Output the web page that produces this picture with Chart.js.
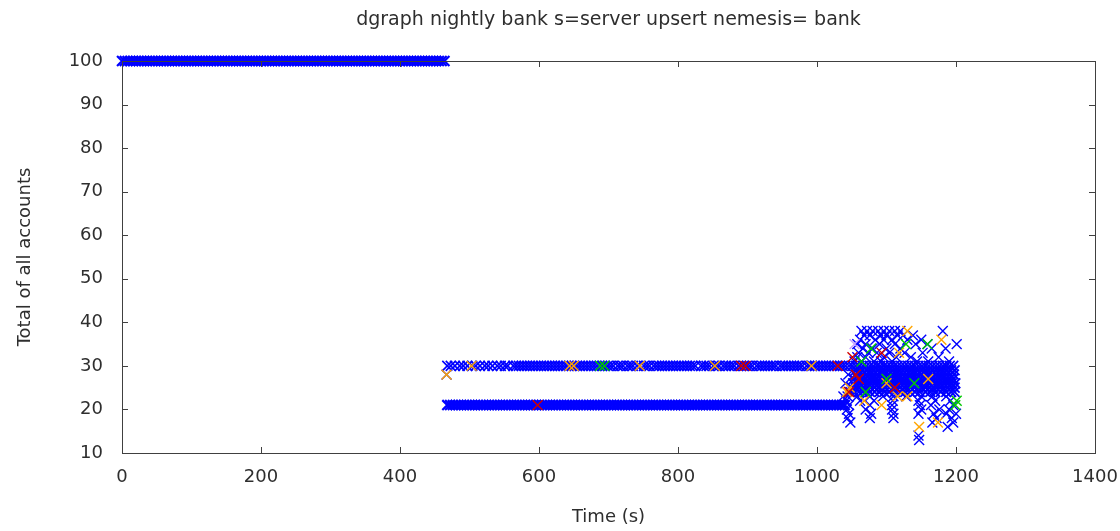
<!DOCTYPE html>
<html><head><meta charset="utf-8">
<script src="https://cdn.jsdelivr.net/npm/chart.js@4/dist/chart.umd.min.js"></script>
<style>html,body{margin:0;padding:0;background:#fff;}</style>
</head><body>
<canvas id="c" width="1120" height="531"></canvas>
<script>
// ---------- text ----------
const titleText = 'dgraph nightly bank s=server upsert nemesis= bank';
const xAxisLabel = 'Time (s)';
const yAxisLabel = 'Total of all accounts';
const xTickValues = [0, 200, 400, 600, 800, 1000, 1200, 1400];
const yTickValues = [10, 20, 30, 40, 50, 60, 70, 80, 90, 100];

// ---------- data: times (s) of reads at a constant total ----------
const band100Value = 100;
const band100Times = [0,4,8,12,16,20,24,28,32,36,40,44,48,52,56,60,64,68,72,76,80,84,88,92,96,100,104,108,112,116,120,124,128,132,136,140,144,148,152,156,160,164,168,172,176,180,184,188,192,196,200,204,208,212,216,220,224,228,232,236,240,244,248,252,256,260,264,268,272,276,280,284,288,292,296,300,304,308,312,316,320,324,328,332,336,340,344,348,352,356,360,364,368,372,376,380,384,388,392,396,400,404,408,412,416,420,424,428,432,436,440,444,448,452,456,460,464];

const band21Value = 21;
const band21Times = [468,472,476,480,484,488,492,496,500,504,508,512,516,520,524,528,532,536,540,544,548,552,556,560,564,568,572,576,580,584,588,592,596,600,604,608,612,616,620,624,628,632,636,640,644,648,652,656,660,664,668,672,676,680,684,688,692,696,700,704,708,712,716,720,724,728,732,736,740,744,748,752,756,760,764,768,772,776,780,784,788,792,796,800,804,808,812,816,820,824,828,832,836,840,844,848,852,856,860,864,868,872,876,880,884,888,892,896,900,904,908,912,916,920,924,928,932,936,940,944,948,952,956,960,964,968,972,976,980,984,988,992,996,1000,1004,1008,1012,1016,1020,1024,1028,1032,1036,1040];

const band30Value = 30;
const band30Times = [468,473,479,486,491,497,504,509,515,522,527,533,540,545,551,555,
563,567,571,575,579,583,587,591,595,599,603,607,611,615,619,623,627,631,635,639,643,647,651,655,659,663,667,671,675,679,683,687,691,695,699,703,707,713,717,721,727,731,735,741,745,751,755,759,765,769,773,777,781,785,789,793,797,801,805,809,813,817,821,825,
833,837,841,845,851,855,859,865,869,873,877,881,887,891,895,899,903,907,913,917,921,925,929,933,937,941,947,951,955,959,963,967,971,975,979,985,989,993,997,1001,1005,1009,1013,1017,1021,1025,1029,1033,1037,1041,
1046,1051,1056,1061,1066,1071,1076,1081,1086,1091,1096,1101,1106,1111,1116,1121,1126,1131,1136,1141,1146,1151,1156,1161,1166,1171,1176,1181,1186,1191,1196];

// dense block of reads after ~1050 s, one list of times per total
const block29Times = [1056,1061,1066,1072,1077,1082,1088,1093,1098,1103,1109,1114,1119,1124,1130,1135,1140,1145,1151,1156,1161,1166,1172,1177,1182,1187,1193,1198];
const block28Times = [1055,1060,1065,1071,1076,1081,1087,1092,1097,1102,1108,1113,1118,1123,1129,1134,1139,1144,1150,1155,1160,1165,1171,1176,1181,1186,1192,1197];
const block27Times = [1053,1059,1064,1069,1075,1080,1085,1091,1096,1101,1107,1112,1117,1122,1128,1133,1138,1143,1149,1154,1159,1164,1170,1175,1180,1185,1191,1196];
const block26Times = [1052,1057,1062,1068,1073,1078,1084,1089,1094,1099,1105,1110,1115,1120,1126,1131,1136,1141,1147,1152,1157,1162,1168,1173,1178,1183,1189,1194,1199];
const block25Times = [1050,1056,1061,1067,1072,1077,1083,1088,1093,1098,1104,1109,1114,1119,1125,1130,1135,1140,1146,1151,1156,1161,1167,1172,1177,1182,1188,1193,1198];
const block24Times = [1048,1054,1060,1066,1071,1076,1083,1090,1097,1104,1112,1120,1127,1134,1141,1148,1156,1163,1170,1178,1186,1193,1198];

// scattered blue reads: [time, total]
const scatterBlue = [
 [467,28],
 [1064,38],[1072,38],[1080,38],[1088,38],[1096,38],[1104,38],[1112,38],[1120,38],[1181,38],
 [1068,37],[1076,37],[1092,37],[1100,37],[1116,37],[1124,37],[1138,37],
 [1062,36],[1084,36],[1096,36],[1108,36],[1130,36],[1150,36],
 [1058,35],[1070,35],[1090,35],[1112,35],[1142,35],[1159,35],[1201,35],
 [1066,34],[1080,34],[1100,34],[1120,34],[1165,34],[1185,34],
 [1060,33],[1074,33],[1086,33],[1104,33],[1126,33],[1152,33],
 [1058,32],[1070,32],[1096,32],[1114,32],[1135,32],[1175,32],
 [1054,31],[1064,31],[1082,31],[1092,31],[1108,31],[1144,31],[1160,31],[1190,31],
 [1045,28],[1041,26],[1038,23],
 [1044,23],[1058,23],[1076,23],[1095,23],[1110,23],[1128,23],[1150,23],[1166,23],[1186,23],
 [1042,22],[1062,22],[1082,22],[1109,22],[1146,22],[1170,22],[1192,22],
 [1046,21],[1076,21],[1108,21],[1148,21],[1164,21],[1196,21],
 [1043,20],[1070,20],[1108,20],[1150,20],[1176,20],[1190,20],
 [1046,19],[1078,19],[1110,19],[1146,19],[1168,19],[1186,19],[1200,19],
 [1044,18],[1076,18],[1110,18],[1172,18],[1194,18],
 [1048,17],[1166,17],[1196,17],
 [1188,16],[1146,14],[1147,13]
];
const scatterOrange = [[467,28],[503,30],[644,30],[650,30],[745,30],[853,30],[992,30],
 [1043,24],[1047,25],[1068,22],[1093,21],[1116,23],[1130,23],[1147,16],[1174,17],
 [1130,38],[1118,33],[1179,36],[1100,26],[1160,27]];
const scatterRed = [[598,21],[891,30],[897,30],[1030,30],[1046,24],[1051,32],[1093,33],[1056,28],[1060,27],[1112,25]];
const scatterGreen = [[688,30],[694,30],[1064,31],[1078,34],[1128,35],[1159,35],[1201,22],[1199,21],[1100,27],[1140,26],[1070,24]];
const scatterPurple = [[1054,35]];

// ---------- build datasets ----------
const fromTimes = (times, v) => times.map(t => ({x: t, y: v}));
const fromPairs = pairs => pairs.map(p => ({x: p[0], y: p[1]}));

const BLUE = '#0000ff';
function ds(data, color, bw) {
  return {data, borderColor: color, backgroundColor: 'rgba(0,0,0,0)', pointStyle: 'crossRot',
    pointRadius: 7, pointHoverRadius: 7, borderWidth: bw, pointBorderWidth: bw, clip: false, showLine: false};
}
const datasets = [
  ds(fromPairs(scatterPurple), '#c8a0ff', 1.4),
  ds(fromPairs(scatterRed), '#d00000', 1.4),
  ds(fromPairs(scatterGreen), '#00c800', 1.4),
  ds(fromPairs(scatterOrange), '#ffa500', 1.4),
  ds(fromPairs(scatterBlue), BLUE, 1.4),
  ds(fromTimes(block29Times, 29).concat(fromTimes(block28Times, 28), fromTimes(block27Times, 27),
     fromTimes(block26Times, 26), fromTimes(block25Times, 25), fromTimes(block24Times, 24)), BLUE, 1.8),
  ds(fromTimes(band30Times, band30Value), BLUE, 1.6),
  ds(fromTimes(band21Times, band21Value), BLUE, 2.2),
  ds(fromTimes(band100Times, band100Value), BLUE, 2.2)
];

const TXT = '#2e2e2e';
const FONT = 'DejaVu Sans';

const framePlugin = {
  id: 'frame',
  afterDatasetsDraw(chart) {
    const {ctx, chartArea: {left, right, top, bottom}, scales: {x, y}} = chart;
    ctx.save();
    ctx.strokeStyle = '#404040';
    ctx.lineWidth = 1;
    ctx.strokeRect(Math.round(left) + 0.5, Math.round(top) + 0.5, Math.round(right - left), Math.round(bottom - top));
    const L = 6;
    ctx.beginPath();
    x.ticks.forEach(t => {
      const px = Math.round(x.getPixelForValue(t.value)) + 0.5;
      ctx.moveTo(px, bottom); ctx.lineTo(px, bottom - L);
      ctx.moveTo(px, top); ctx.lineTo(px, top + L);
    });
    y.ticks.forEach(t => {
      const py = Math.round(y.getPixelForValue(t.value)) + 0.5;
      ctx.moveTo(left, py); ctx.lineTo(left + L, py);
      ctx.moveTo(right, py); ctx.lineTo(right - L, py);
    });
    ctx.stroke();
    ctx.restore();
  }
};

new Chart(document.getElementById('c'), {
  type: 'scatter',
  data: {datasets},
  options: {
    responsive: false,
    animation: false,
    devicePixelRatio: 1,
    events: [],
    layout: {padding: {left: 0, right: 0, top: 0, bottom: 0}},
    plugins: {
      legend: {display: false},
      tooltip: {enabled: false},
      title: {display: true, text: titleText, color: TXT, fullSize: false,
        font: {family: FONT, size: 19, weight: 'normal', lineHeight: 1.2},
        padding: {top: 9, bottom: 29.2}}
    },
    scales: {
      x: {
        type: 'linear', min: 0, max: 1400,
        afterBuildTicks: s => { s.ticks = xTickValues.map(v => ({value: v})); },
        afterFit: s => { s.height = 78; s.paddingRight = 25; s.paddingLeft = 0; },
        grid: {display: false, drawTicks: false},
        border: {display: false},
        ticks: {color: TXT, font: {family: FONT, size: 18, lineHeight: 1.2}, padding: 14, maxRotation: 0,
          callback: v => String(v)},
        title: {display: true, text: xAxisLabel, color: TXT,
          font: {family: FONT, size: 18, lineHeight: 1.2}, padding: {top: 0, bottom: 3}}
      },
      y: {
        type: 'linear', min: 10, max: 100,
        afterBuildTicks: s => { s.ticks = yTickValues.map(v => ({value: v})); },
        afterFit: s => { s.width = 122; },
        grid: {display: false, drawTicks: false},
        border: {display: false},
        ticks: {color: TXT, font: {family: FONT, size: 18, lineHeight: 1.2}, padding: 19,
          callback: v => String(v)},
        title: {display: true, text: yAxisLabel, color: TXT,
          font: {family: FONT, size: 18, lineHeight: 1.2}, padding: {top: 15, bottom: 0}}
      }
    }
  },
  plugins: [framePlugin]
});
</script>
</body></html>
